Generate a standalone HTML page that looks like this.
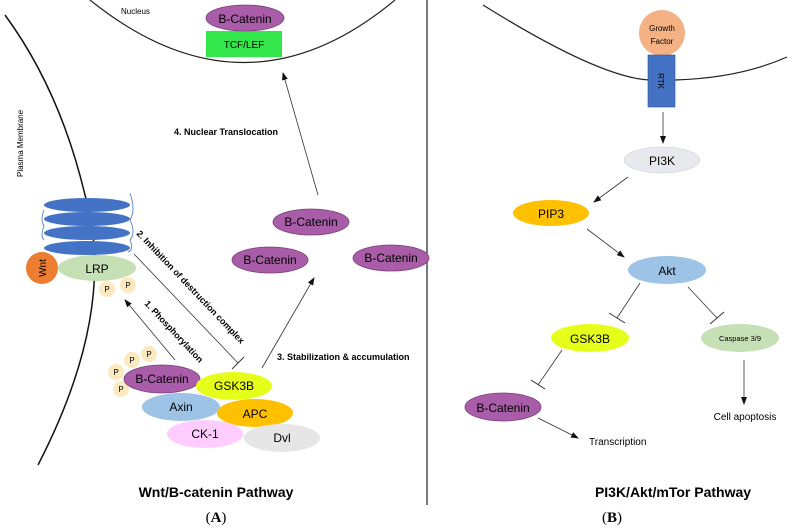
<!DOCTYPE html>
<html><head><meta charset="utf-8"><style>
body{margin:0;background:#fff}
svg{display:block;font-family:"Liberation Sans",sans-serif}
</style></head><body>
<svg width="794" height="529" viewBox="0 0 794 529" xmlns="http://www.w3.org/2000/svg">
<defs><marker id="a" markerWidth="8" markerHeight="8" refX="7" refY="4" orient="auto" markerUnits="userSpaceOnUse"><path d="M0,1 L8,4 L0,7z" fill="#111"/></marker></defs>
<line x1="427" y1="0" x2="427" y2="505" stroke="#222" stroke-width="1.2"/>
<!-- Left -->
<path d="M90 0 Q245 125 395 0" fill="none" stroke="#222" stroke-width="1.2"/>
<text x="121" y="14" font-size="8">Nucleus</text>
<rect x="206" y="31" width="76" height="26" fill="#33e64b"/>
<text x="244" y="48" font-size="10" text-anchor="middle">TCF/LEF</text>
<ellipse cx="245" cy="18" rx="39" ry="13" fill="#a95ca8" stroke="#7b3f7b" stroke-width="0.8"/>
<text x="245" y="23" font-size="12" text-anchor="middle">B-Catenin</text>
<path d="M5 15 Q60 90 85 195 Q118 310 38 465" fill="none" stroke="#111" stroke-width="1.5"/>
<text transform="translate(23,177) rotate(-90)" font-size="8">Plasma Membrane</text>
<path d="M130 193 Q136 210 130 220 Q136 233 130 240 Q134 250 128 252" fill="none" stroke="#4472c4" stroke-width="0.8"/>
<path d="M44 210 Q40 220 44 226 Q40 236 44 240" fill="none" stroke="#4472c4" stroke-width="0.8"/>
<ellipse cx="87" cy="205" rx="43" ry="7" fill="#4472c4"/>
<ellipse cx="87" cy="219" rx="43" ry="7" fill="#4472c4"/>
<ellipse cx="87" cy="233" rx="43" ry="7" fill="#4472c4"/>
<ellipse cx="87" cy="248" rx="43" ry="7" fill="#4472c4"/>
<circle cx="42" cy="268" r="16" fill="#ed7d31"/>
<text transform="translate(46,268) rotate(-90)" font-size="10" text-anchor="middle">Wnt</text>
<ellipse cx="97" cy="268" rx="39" ry="13" fill="#c5e0b4"/>
<text x="97" y="273" font-size="12" text-anchor="middle">LRP</text>
<g fill="#fde9bf">
<circle cx="107" cy="289" r="8"/><circle cx="128" cy="285" r="8"/>
<circle cx="149" cy="354" r="8"/><circle cx="132" cy="360" r="8"/><circle cx="116" cy="372" r="8"/><circle cx="121" cy="389" r="8"/>
</g>
<g font-size="8" text-anchor="middle" fill="#000">
<text x="107" y="292">P</text><text x="128" y="288">P</text><text x="149" y="357">P</text><text x="132" y="363">P</text><text x="116" y="375">P</text><text x="121" y="392">P</text>
</g>
<line x1="175" y1="360" x2="125" y2="300" stroke="#333" stroke-width="0.8" marker-end="url(#a)"/>
<line x1="134" y1="254" x2="238" y2="363" stroke="#333" stroke-width="0.8"/>
<line x1="232" y1="369" x2="244" y2="357" stroke="#333" stroke-width="1"/>
<line x1="262" y1="368" x2="314" y2="278" stroke="#333" stroke-width="0.8" marker-end="url(#a)"/>
<line x1="318" y1="195" x2="283" y2="73" stroke="#333" stroke-width="0.8" marker-end="url(#a)"/>
<text transform="translate(136,234) rotate(46.5)" font-size="9" font-weight="bold">2. Inhibition of destruction complex</text>
<text transform="translate(144,304) rotate(47)" font-size="9" font-weight="bold">1. Phosphorylation</text>
<text x="277" y="360" font-size="9" font-weight="bold">3. Stabilization &amp; accumulation</text>
<text x="174" y="135" font-size="9" font-weight="bold">4. Nuclear Translocation</text>
<g stroke-width="0.8">
<ellipse cx="311" cy="222" rx="38" ry="13" fill="#a95ca8" stroke="#7b3f7b"/>
<ellipse cx="270" cy="260" rx="38" ry="13" fill="#a95ca8" stroke="#7b3f7b"/>
<ellipse cx="391" cy="258" rx="38" ry="13" fill="#a95ca8" stroke="#7b3f7b"/>
<ellipse cx="162" cy="379" rx="38" ry="14" fill="#a95ca8" stroke="#7b3f7b"/>
<ellipse cx="234" cy="386" rx="38" ry="14" fill="#e6ff1a"/>
<ellipse cx="181" cy="407" rx="39" ry="14" fill="#9dc3e6"/>
<ellipse cx="255" cy="413" rx="38" ry="14" fill="#ffc000"/>
<ellipse cx="205" cy="434" rx="38" ry="14" fill="#ffccff"/>
<ellipse cx="282" cy="438" rx="38" ry="14" fill="#e7e6e6"/>
</g>
<g font-size="12" text-anchor="middle">
<text x="311" y="226">B-Catenin</text><text x="270" y="264">B-Catenin</text><text x="391" y="262">B-Catenin</text>
<text x="162" y="383">B-Catenin</text><text x="234" y="390">GSK3B</text><text x="181" y="411">Axin</text>
<text x="255" y="418">APC</text><text x="205" y="438">CK-1</text><text x="282" y="442">Dvl</text>
</g>
<text x="216" y="497" font-size="14" font-weight="bold" text-anchor="middle">Wnt/B-catenin Pathway</text>
<text x="216" y="522" font-size="15" text-anchor="middle" font-family="Liberation Serif,serif">(<tspan font-weight="bold">A</tspan>)</text>
<!-- Right -->
<path d="M483 5 Q600 78 650 80 M675 80 Q740 78 787 57" fill="none" stroke="#222" stroke-width="1.2"/>
<circle cx="662" cy="33" r="23" fill="#f4b183"/>
<text x="662" y="31" font-size="8" text-anchor="middle">Growth</text>
<text x="662" y="44" font-size="8" text-anchor="middle">Factor</text>
<rect x="648" y="55" width="27" height="52" fill="#4472c4" stroke="#2f528f" stroke-width="0.6"/>
<text transform="translate(658,81) rotate(90)" font-size="8" text-anchor="middle">RTK</text>
<line x1="663" y1="112" x2="663" y2="143" stroke="#333" stroke-width="0.8" marker-end="url(#a)"/>
<ellipse cx="662" cy="160" rx="38" ry="13" fill="#e7e9ee" stroke="#ccc" stroke-width="0.5"/>
<text x="662" y="165" font-size="12" text-anchor="middle">PI3K</text>
<line x1="628" y1="177" x2="594" y2="202" stroke="#333" stroke-width="0.8" marker-end="url(#a)"/>
<ellipse cx="551" cy="213" rx="38" ry="13" fill="#ffc000"/>
<text x="551" y="218" font-size="12" text-anchor="middle">PIP3</text>
<line x1="587" y1="229" x2="624" y2="257" stroke="#333" stroke-width="0.8" marker-end="url(#a)"/>
<ellipse cx="667" cy="270" rx="39" ry="14" fill="#9dc3e6"/>
<text x="667" y="275" font-size="12" text-anchor="middle">Akt</text>
<line x1="640" y1="283" x2="617" y2="318" stroke="#333" stroke-width="0.8"/>
<line x1="609" y1="313" x2="625" y2="323" stroke="#333" stroke-width="1"/>
<line x1="688" y1="287" x2="717" y2="318" stroke="#333" stroke-width="0.8"/>
<line x1="710" y1="324" x2="724" y2="312" stroke="#333" stroke-width="1"/>
<ellipse cx="590" cy="338" rx="39" ry="14" fill="#e6ff1a"/>
<text x="590" y="343" font-size="12" text-anchor="middle">GSK3B</text>
<ellipse cx="740" cy="338" rx="39" ry="14" fill="#c5e0b4"/>
<text x="740" y="341" font-size="7.5" text-anchor="middle">Caspase 3/9</text>
<line x1="562" y1="350" x2="538" y2="385" stroke="#333" stroke-width="0.8"/>
<line x1="531" y1="380" x2="545" y2="389" stroke="#333" stroke-width="1"/>
<ellipse cx="503" cy="407" rx="38" ry="14" fill="#a95ca8" stroke="#7b3f7b" stroke-width="0.8"/>
<text x="503" y="412" font-size="12" text-anchor="middle">B-Catenin</text>
<line x1="538" y1="418" x2="578" y2="438" stroke="#333" stroke-width="0.8" marker-end="url(#a)"/>
<text x="589" y="445" font-size="10">Transcription</text>
<line x1="744" y1="360" x2="744" y2="404" stroke="#333" stroke-width="0.8" marker-end="url(#a)"/>
<text x="745" y="420" font-size="10" text-anchor="middle">Cell apoptosis</text>
<text x="673" y="497" font-size="14" font-weight="bold" text-anchor="middle">PI3K/Akt/mTor Pathway</text>
<text x="612" y="522" font-size="15" text-anchor="middle" font-family="Liberation Serif,serif">(<tspan font-weight="bold">B</tspan>)</text>
</svg>
</body></html>
